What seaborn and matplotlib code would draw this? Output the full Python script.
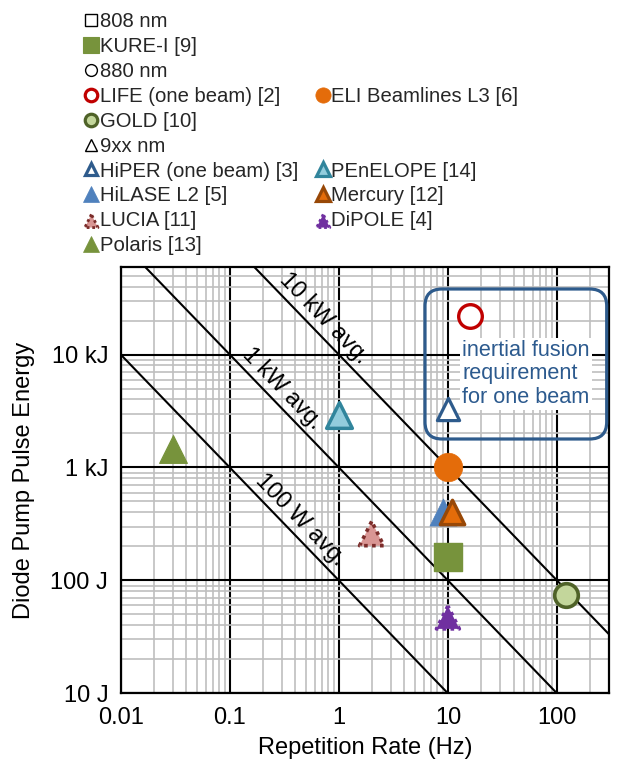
import numpy as np
import matplotlib
matplotlib.use("Agg")
import matplotlib.pyplot as plt
import seaborn as sns
from matplotlib.lines import Line2D
from matplotlib.patches import FancyBboxPatch
from matplotlib import font_manager as fm
from matplotlib.ticker import FixedLocator, LogLocator, NullFormatter

# ---------------- data ----------------
systems = ["KURE-I [9]", "LIFE (one beam) [2]", "ELI Beamlines L3 [6]", "GOLD [10]",
           "HiPER (one beam) [3]", "PEnELOPE [14]", "HiLASE L2 [5]", "Mercury [12]",
           "LUCIA [11]", "DiPOLE [4]", "Polaris [13]"]
rep_rate_hz = [10, 16, 10, 120, 10, 1, 9, 11, 2, 10, 0.03]
pump_energy_j = [160, 22000, 1000, 75, 3300, 2900, 400, 400, 260, 47, 1460]
wavelength_groups = ["808 nm", "880 nm", "9xx nm"]
avg_power_w = [100, 1000, 10000]
power_labels = ["100 W avg.", "1 kW avg.", "10 kW avg."]
x_ticks = [0.01, 0.1, 1, 10, 100]
x_tick_labels = ["0.01", "0.1", "1", "10", "100"]
y_ticks = [10, 100, 1000, 10000]
y_tick_labels = ["10 J", "100 J", "1 kJ", "10 kJ"]
box_text = "inertial fusion\nrequirement\nfor one beam"

# ---------------- styles ----------------
GREEN = "#77933C"
NAVY = "#2E5B8C"
styles = {
    "KURE-I [9]":          dict(marker="s", size=20.5, fc=GREEN, ec=GREEN, lw=1.0, ls="-"),
    "LIFE (one beam) [2]": dict(marker="o", size=17.0, fc="white", ec="#C00000", lw=2.4, ls="-"),
    "ELI Beamlines L3 [6]": dict(marker="o", size=20.5, fc="#E46C0A", ec="#E46C0A", lw=0.5, ls="-"),
    "GOLD [10]":           dict(marker="o", size=17.0, fc="#C3D69B", ec="#4F6228", lw=2.6, ls="-"),
    "HiPER (one beam) [3]": dict(marker="^", size=16.0, fc="white", ec=NAVY, lw=2.3, ls="-"),
    "PEnELOPE [14]":       dict(marker="^", size=18.5, fc="#93CDDD", ec="#31859C", lw=2.5, ls="-"),
    "HiLASE L2 [5]":       dict(marker="^", size=19.5, fc="#4F81BD", ec="#4F81BD", lw=0.5, ls="-"),
    "Mercury [12]":        dict(marker="^", size=17.5, fc="#E46C0A", ec="#984807", lw=2.5, ls="-"),
    "LUCIA [11]":          dict(marker="^", size=17.5, fc="#D99694", ec="#7B2C2A", lw=2.6, ls=(0, (1, 1.2))),
    "DiPOLE [4]":          dict(marker="^", size=16.5, fc="#7030A0", ec="#7030A0", lw=2.6, ls=(0, (1, 1.2))),
    "Polaris [13]":        dict(marker="^", size=20.0, fc=GREEN, ec=GREEN, lw=0.8, ls="-"),
}

# ---------------- theme / fonts ----------------
sns.set_theme(style="white")
plt.rcParams["font.family"] = ["Liberation Sans", "DejaVu Sans"]
installed = {f.name for f in fm.fontManager.ttflist}
if "Liberation Sans Narrow" in installed:
    legend_font = dict(family=["Liberation Sans Narrow", "Liberation Sans"], size=16.8)
    leg_lsp = 0.10
else:
    legend_font = dict(family=["Liberation Sans", "DejaVu Sans"], size=14.6)
    leg_lsp = 0.29

fig = plt.figure(figsize=(6.32, 7.65), dpi=100)
ax = fig.add_axes([0.191, 0.0937, 0.7726, 0.5577])

ax.set_xscale("log")
ax.set_yscale("log")
ax.set_xlim(0.01, 300)
ax.set_ylim(10, 6e4)

# grid
ax.xaxis.set_major_locator(FixedLocator(x_ticks))
ax.yaxis.set_major_locator(FixedLocator(y_ticks))
ax.xaxis.set_minor_locator(LogLocator(base=10, subs=np.arange(2, 10), numticks=50))
ax.yaxis.set_minor_locator(LogLocator(base=10, subs=np.arange(2, 10), numticks=50))
ax.xaxis.set_minor_formatter(NullFormatter())
ax.yaxis.set_minor_formatter(NullFormatter())
ax.set_xticklabels(x_tick_labels)
ax.set_yticklabels(y_tick_labels)
ax.grid(which="major", color="black", linewidth=1.5)
ax.grid(which="minor", color="#BFBFBF", linewidth=1.2)
ax.set_axisbelow(True)
ax.tick_params(which="both", length=0)
ax.tick_params(axis="x", labelsize=17, pad=10, colors="black")
ax.tick_params(axis="y", labelsize=17, pad=9, colors="black")
for sp in ax.spines.values():
    sp.set_visible(True)
    sp.set_color("black")
    sp.set_linewidth(1.6)

# constant average power lines
xl = ax.get_xlim()
for p in avg_power_w:
    sns.lineplot(x=[xl[0], xl[1]], y=[p / xl[0], p / xl[1]], ax=ax, color="black",
                 linewidth=1.5, zorder=3, legend=False)

# slope angle on screen
fig.canvas.draw()
p0 = ax.transData.transform((1, 1000))
p1 = ax.transData.transform((10, 100))
ang = np.degrees(np.arctan2(p1[1] - p0[1], p1[0] - p0[0]))
label_pos = {"100 W avg.": (0.441, 347), "1 kW avg.": (0.305, 4970), "10 kW avg.": (0.733, 20800)}
for lab in power_labels:
    x0, y0 = label_pos[lab]
    ax.text(x0, y0, lab, rotation=ang, rotation_mode="anchor", ha="center", va="center",
            fontsize=16.8, color="black", zorder=4)

# data points
for name, f, e in zip(systems, rep_rate_hz, pump_energy_j):
    st = styles[name]
    sns.scatterplot(x=[f], y=[e], ax=ax, marker=st["marker"], s=st["size"] ** 2,
                    color=st["fc"], edgecolor=st["ec"], linewidth=st["lw"],
                    linestyle=st["ls"], zorder=6, legend=False, clip_on=False)

# rounded box + text
box = FancyBboxPatch((4.25, 3.26), 1.817, 1.50,
                     boxstyle="round,pad=0,rounding_size=0.17",
                     transform=fig.dpi_scale_trans, fill=False,
                     edgecolor=NAVY, linewidth=2.3, zorder=5, clip_on=False)
ax.add_patch(box)
ax.text(0.699, 0.7485, box_text, transform=ax.transAxes, ha="left", va="center",
        fontsize=15.6, color="#2C5A8E", linespacing=1.17, zorder=5,
        bbox=dict(facecolor="white", edgecolor="none", pad=1.5))

# axis labels
ax.set_xlabel("Repetition Rate (Hz)", fontsize=17, color="black")
ax.set_ylabel("Diode Pump Pulse Energy", fontsize=17, color="black")
ax.xaxis.set_label_coords(0.5, -0.103)
ax.yaxis.set_label_coords(-0.1755, 0.5)

# ---------------- legend ----------------
def h_line(marker, ms, fc, ec, mew):
    return Line2D([], [], linestyle="none", marker=marker, markersize=ms,
                  markerfacecolor=fc, markeredgecolor=ec, markeredgewidth=mew)

def h_dotted(fc, ec):
    return ax.scatter([], [], marker="^", s=9.5 ** 2, facecolors=fc, edgecolors=ec,
                      linewidths=2.0, linestyles=(0, (1, 1)))

blank = Line2D([], [], linestyle="none", marker=None)
leg_handles = {
    "808 nm": h_line("s", 8.5, "white", "black", 1.0),
    "KURE-I [9]": h_line("s", 11, GREEN, GREEN, 0.8),
    "880 nm": h_line("o", 8.5, "white", "black", 1.0),
    "LIFE (one beam) [2]": h_line("o", 9, "white", "#C00000", 2.3),
    "ELI Beamlines L3 [6]": h_line("o", 11, "#E46C0A", "#E46C0A", 0.5),
    "GOLD [10]": h_line("o", 9, "#C3D69B", "#4F6228", 2.3),
    "9xx nm": h_line("^", 9, "white", "black", 1.0),
    "HiPER (one beam) [3]": h_line("^", 9, "white", NAVY, 2.3),
    "PEnELOPE [14]": h_line("^", 9.5, "#93CDDD", "#31859C", 2.3),
    "HiLASE L2 [5]": h_line("^", 11, "#4F81BD", "#4F81BD", 0.5),
    "Mercury [12]": h_line("^", 9.5, "#E46C0A", "#984807", 2.3),
    "LUCIA [11]": h_dotted("#D99694", "#7B2C2A"),
    "DiPOLE [4]": h_dotted("#7030A0", "#7030A0"),
    "Polaris [13]": h_line("^", 11, GREEN, GREEN, 0.5),
}
col1 = [wavelength_groups[0], systems[0], wavelength_groups[1], systems[1], systems[3],
        wavelength_groups[2], systems[4], systems[6], systems[8], systems[10]]
col2 = ["", "", "", systems[2], "", "", systems[5], systems[7], systems[9], ""]
handles, labels = [], []
for lab in col1 + col2:
    handles.append(leg_handles[lab] if lab else blank)
    labels.append(lab)

fig.legend(handles, labels, loc="upper left", bbox_to_anchor=(0.1334, 0.984),
           bbox_transform=fig.transFigure, ncol=2, frameon=False, borderpad=0,
           borderaxespad=0, handlelength=0.7, handletextpad=0.05, columnspacing=0.9,
           labelspacing=leg_lsp, scatterpoints=1, numpoints=1, prop=legend_font)

fig.savefig("out.png", dpi=100)
